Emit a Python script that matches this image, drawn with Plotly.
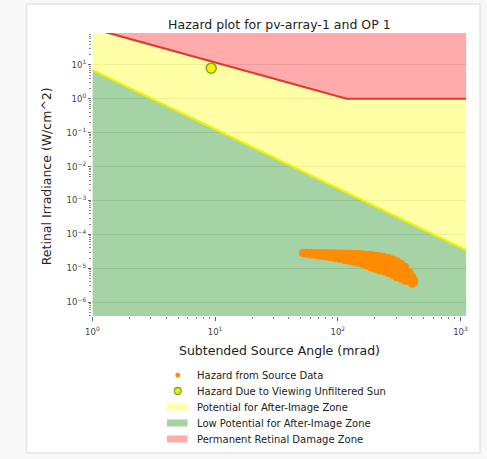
import plotly.graph_objects as go

# ---- data -------------------------------------------------------------
# hazard points computed from the source data (subtended angle in mrad, irradiance in W/cm^2)
source_angle = [
    52,
    56, 56,
    61, 61,
    67, 67,
    73, 73, 73,
    80, 80, 80,
    87, 87, 87,
    95, 95, 95,
    104, 104, 104,
    113, 113, 113,
    123, 123, 123,
    134, 134, 134,
    146, 146, 146,
    159, 159, 159,
    172, 172, 172, 172,
    187, 187, 187, 187,
    203, 203, 203, 203,
    220, 220, 220, 220,
    238, 238, 238, 238,
    258, 258, 258, 258,
    280, 280, 280, 280,
    303, 303, 303, 303,
    328, 328, 328, 328,
    355, 355, 355, 355,
    384, 384, 384,
    405, 405, 405,
    418, 418,
]
source_irradiance = [
    2.8e-5,
    2.85e-5, 2.65e-5,
    2.85e-5, 2.55e-5,
    2.8e-5, 2.45e-5,
    2.8e-5, 2.5e-5, 2.3e-5,
    2.8e-5, 2.45e-5, 2.2e-5,
    2.75e-5, 2.4e-5, 2.1e-5,
    2.75e-5, 2.35e-5, 2.0e-5,
    2.7e-5, 2.3e-5, 1.9e-5,
    2.7e-5, 2.2e-5, 1.75e-5,
    2.7e-5, 2.1e-5, 1.65e-5,
    2.65e-5, 2.1e-5, 1.55e-5,
    2.65e-5, 2.0e-5, 1.45e-5,
    2.6e-5, 1.95e-5, 1.35e-5,
    2.5e-5, 1.9e-5, 1.45e-5, 1.2e-5,
    2.45e-5, 1.85e-5, 1.35e-5, 1.05e-5,
    2.35e-5, 1.8e-5, 1.3e-5, 9.6e-6,
    2.25e-5, 1.7e-5, 1.2e-5, 8.6e-6,
    2.15e-5, 1.6e-5, 1.15e-5, 8.0e-6,
    2.0e-5, 1.5e-5, 1.05e-5, 7.2e-6,
    1.8e-5, 1.35e-5, 9.5e-6, 6.4e-6,
    1.6e-5, 1.2e-5, 8.5e-6, 5.4e-6,
    1.35e-5, 1.0e-5, 7.2e-6, 4.9e-6,
    1.1e-5, 8.2e-6, 6.0e-6, 4.3e-6,
    7.5e-6, 5.6e-6, 4.2e-6,
    5.6e-6, 4.5e-6, 3.5e-6,
    4.4e-6, 3.8e-6,
]

# unfiltered sun
sun_angle = [9.3]
sun_irradiance = [8.0]

# after-image threshold line
afterimage_angle = [1.0, 1117.0]
afterimage_irradiance = [7.1, 3.4e-5]

# permanent retinal damage threshold line
burn_angle = [1.0, 118.0, 1117.0]
burn_irradiance = [118.0, 1.0, 1.0]

# bounds used to close the filled zones
zone_floor = 1e-9
zone_ceiling = 1e4

x_tick_vals = [1, 10, 100, 1000]
x_tick_text = ["10<sup>0</sup>", "10<sup>1</sup>", "10<sup>2</sup>", "10<sup>3</sup>"]
y_tick_vals = [1e-6, 1e-5, 1e-4, 1e-3, 1e-2, 1e-1, 1, 10]
y_tick_text = ["10<sup>\u22126</sup>", "10<sup>\u22125</sup>", "10<sup>\u22124</sup>",
               "10<sup>\u22123</sup>", "10<sup>\u22122</sup>", "10<sup>\u22121</sup>",
               "10<sup>0</sup>", "10<sup>1</sup>"]

legend_labels = [
    "Hazard from Source Data",
    "Hazard Due to Viewing Unfiltered Sun",
    "Potential for After-Image Zone",
    "Low Potential for After-Image Zone",
    "Permanent Retinal Damage Zone",
]

# ---- styling ----------------------------------------------------------
W, H = 487, 459
GREEN_FILL = "rgba(0,128,0,0.35)"
YELLOW_FILL = "rgba(255,255,0,0.35)"
RED_FILL = "rgba(255,0,0,0.33)"
ORANGE = "#ff8c00"
FONT = "DejaVu Sans"


def px(x):
    return x / W


def py(y):
    return 1 - y / H


fig = go.Figure()

# low potential zone (below after-image line)
fig.add_trace(go.Scatter(
    x=afterimage_angle + [afterimage_angle[-1], afterimage_angle[0]],
    y=afterimage_irradiance + [zone_floor, zone_floor],
    fill="toself", fillcolor=GREEN_FILL, mode="none", hoverinfo="skip",
))
# potential for after-image zone (between the two thresholds)
fig.add_trace(go.Scatter(
    x=afterimage_angle + burn_angle[::-1],
    y=afterimage_irradiance + burn_irradiance[::-1],
    fill="toself", fillcolor=YELLOW_FILL, mode="none", hoverinfo="skip",
))
# permanent retinal damage zone (above burn line)
fig.add_trace(go.Scatter(
    x=burn_angle + [burn_angle[-1], burn_angle[0]],
    y=burn_irradiance + [zone_ceiling, zone_ceiling],
    fill="toself", fillcolor=RED_FILL, mode="none", hoverinfo="skip",
))
# threshold lines
fig.add_trace(go.Scatter(
    x=afterimage_angle, y=afterimage_irradiance, mode="lines",
    line=dict(color="#f2f200", width=2.2), hoverinfo="skip",
))
fig.add_trace(go.Scatter(
    x=burn_angle, y=burn_irradiance, mode="lines",
    line=dict(color="#e03a2e", width=2.2), hoverinfo="skip",
))
# hazard points
fig.add_trace(go.Scatter(
    x=source_angle, y=source_irradiance, mode="markers",
    marker=dict(color=ORANGE, size=8, line=dict(width=0)),
))
fig.add_trace(go.Scatter(
    x=sun_angle, y=sun_irradiance, mode="markers",
    marker=dict(color="#f4f000", size=10, line=dict(color="#6fae2a", width=1.5)),
))

# ---- card background --------------------------------------------------
shapes = [dict(
    type="rect", xref="paper", yref="paper",
    x0=px(20), x1=px(482), y0=py(453), y1=py(4),
    line=dict(color="#e4e4e4", width=1.5), fillcolor="white", layer="below",
)]

# ---- legend below the axes --------------------------------------------
annotations = []
rows = [375, 391, 407, 423, 439]
patch_fills = [YELLOW_FILL, GREEN_FILL, RED_FILL]
for i, (label, ry) in enumerate(zip(legend_labels, rows)):
    if i == 0:
        shapes.append(dict(type="circle", xref="paper", yref="paper",
                           x0=px(171.5), x1=px(176.5), y0=py(ry + 2.5), y1=py(ry - 2.5),
                           fillcolor=ORANGE, line=dict(width=0)))
    elif i == 1:
        shapes.append(dict(type="circle", xref="paper", yref="paper",
                           x0=px(170.5), x1=px(177.5), y0=py(ry + 3.5), y1=py(ry - 3.5),
                           fillcolor="#f4f000", line=dict(color="#6fae2a", width=1.3)))
    else:
        shapes.append(dict(type="rect", xref="paper", yref="paper",
                           x0=px(163), x1=px(184), y0=py(ry + 3.5), y1=py(ry - 3.5),
                           fillcolor=patch_fills[i - 2], line=dict(width=0)))
    annotations.append(dict(
        text=label, xref="paper", yref="paper", x=px(192), y=py(ry),
        xanchor="left", yanchor="middle", showarrow=False,
        font=dict(family=FONT, size=10, color="#222"),
    ))

# axis titles
annotations.append(dict(
    text="Subtended Source Angle (mrad)", xref="paper", yref="paper",
    x=px(277.5), y=py(350), xanchor="center", yanchor="middle", showarrow=False,
    font=dict(family=FONT, size=12.5, color="#222"),
))
annotations.append(dict(
    text="Retinal Irradiance (W/cm^2)", xref="paper", yref="paper",
    x=px(40), y=py(176), xanchor="center", yanchor="middle", showarrow=False,
    textangle=-90, font=dict(family=FONT, size=12.5, color="#222"),
))

x_minor = [m * 10 ** e for e in range(0, 4) for m in range(2, 10) if m * 10 ** e < 1117]
y_minor = [m * 10.0 ** e for e in range(-7, 2) for m in range(2, 10)]

fig.update_layout(
    width=W, height=H,
    margin=dict(l=0, r=0, t=0, b=0),
    paper_bgcolor="#f8f8f8",
    plot_bgcolor="white",
    showlegend=False,
    shapes=shapes,
    annotations=annotations,
    title=dict(
        text="Hazard plot for pv-array-1 and OP 1",
        x=px(277.5), xanchor="center", xref="paper",
        y=py(25), yanchor="middle", yref="paper",
        font=dict(family=FONT, size=12.5, color="#222"),
    ),
    xaxis=dict(
        type="log", range=[0, 3.048], domain=[px(87), px(468)],
        tickmode="array", tickvals=x_tick_vals, ticktext=x_tick_text,
        ticks="outside", ticklen=3.5, tickcolor="#666", tickwidth=1,
        ticklabelstandoff=4,
        tickfont=dict(family=FONT, size=8.5, color="#444"),
        showgrid=False, showline=False, zeroline=False,
        minor=dict(tickmode="array", tickvals=x_minor, ticks="outside",
                   ticklen=2, tickcolor="#888", showgrid=False),
    ),
    yaxis=dict(
        type="log", range=[-6.41, 1.94], domain=[py(316), py(33)],
        tickmode="array", tickvals=y_tick_vals, ticktext=y_tick_text,
        ticks="outside", ticklen=3.5, tickcolor="#666", tickwidth=1,
        tickfont=dict(family=FONT, size=8.5, color="#444"),
        showgrid=True, gridcolor="rgba(140,140,140,0.22)", gridwidth=0.8,
        showline=False, zeroline=False,
        minor=dict(tickmode="array", tickvals=y_minor, ticks="outside",
                   ticklen=2, tickcolor="#888", showgrid=False),
    ),
)

fig.write_html("out.html")
